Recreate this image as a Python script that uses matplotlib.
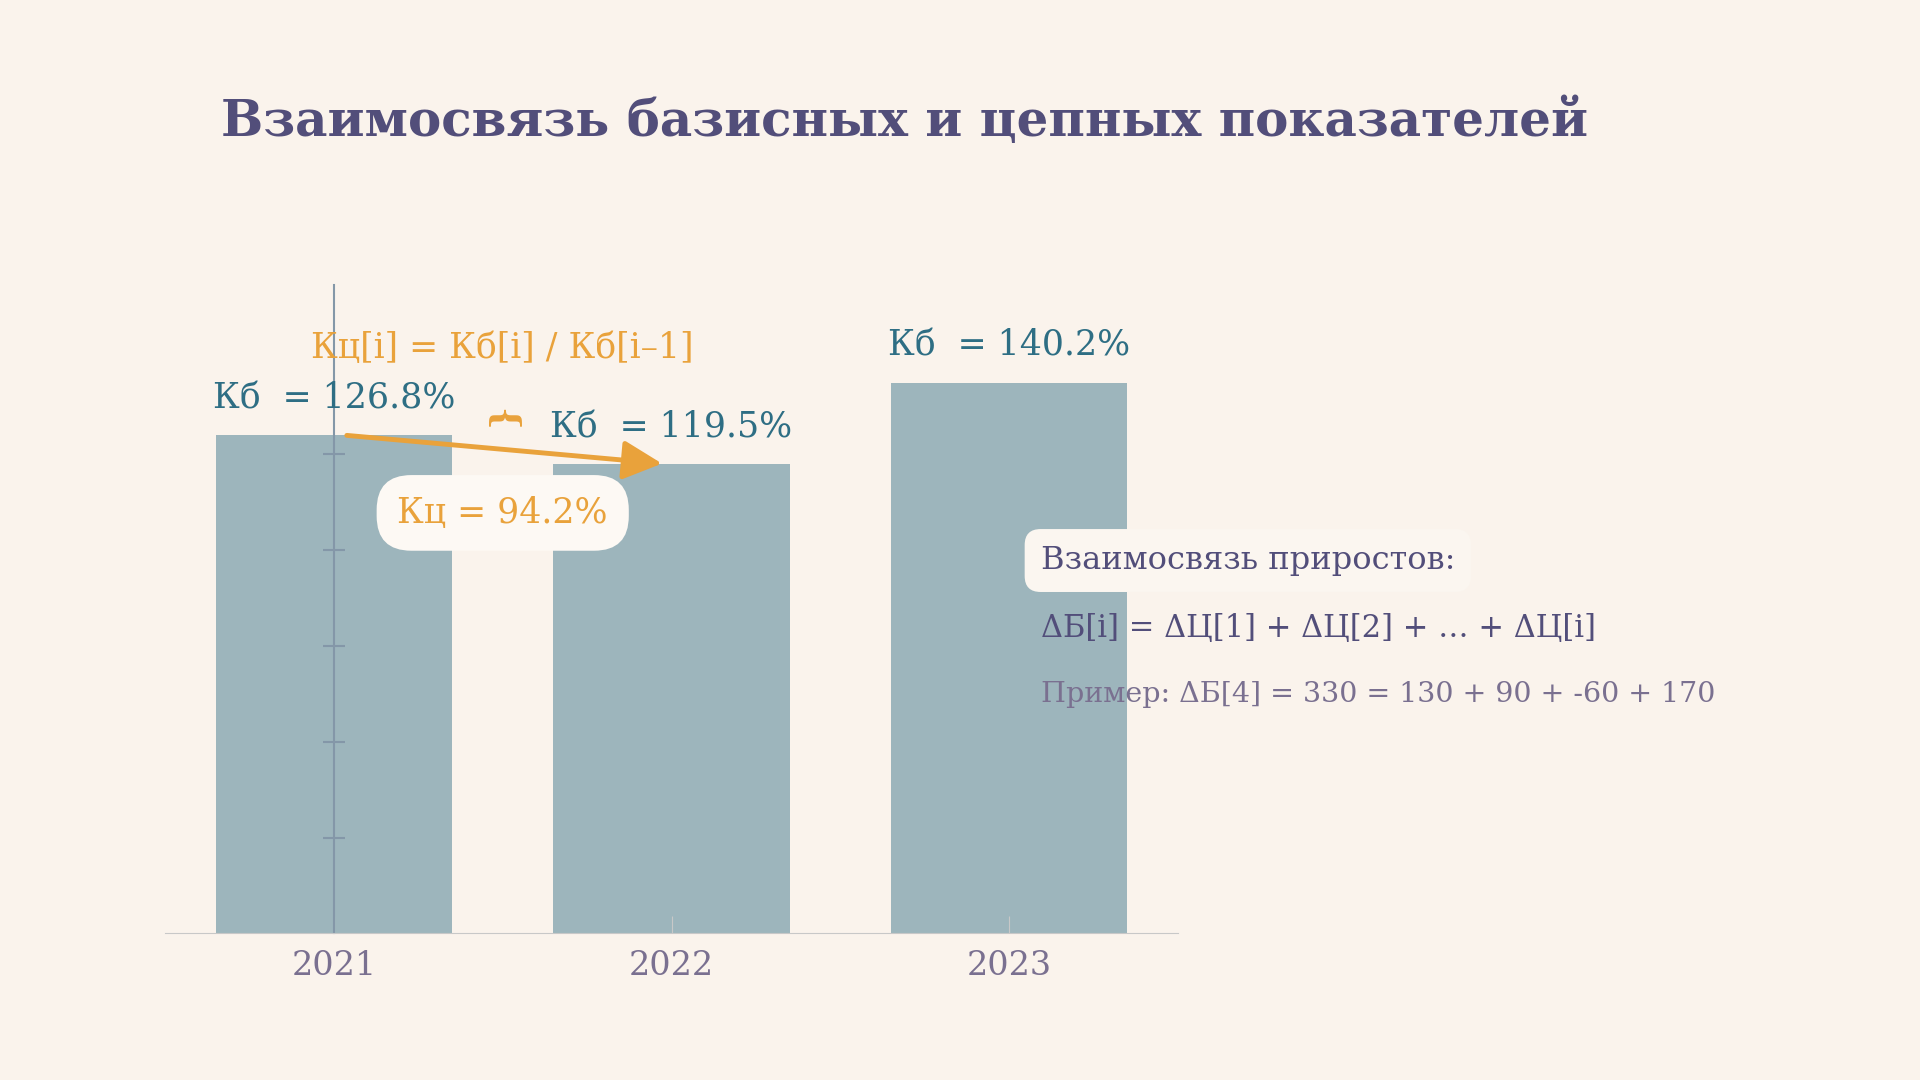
import matplotlib
matplotlib.use("Agg")
import matplotlib.pyplot as plt
from matplotlib.patches import FancyArrowPatch

years = ["2021", "2022", "2023"]
kb = [126.8, 119.5, 140.2]
kb_labels = ["Кб  = 126.8%", "Кб  = 119.5%", "Кб  = 140.2%"]
kc_label = "Кц = 94.2%"
formula = "Кц[i] = Кб[i] / Кб[i–1]"
title = "Взаимосвязь базисных и цепных показателей"
side_lines = ["Взаимосвязь приростов:", "ΔБ[i] = ΔЦ[1] + ΔЦ[2] + … + ΔЦ[i]",
              "Пример: ΔБ[4] = 330 = 130 + 90 + -60 + 170"]
yticks = [24.3, 48.6, 73.0, 97.5, 122.0]

BG = "#faf3ec"; BAR = "#9db5bc"; TITLE = "#524e7a"; BLUE = "#2e6e84"
ORANGE = "#e9a23b"; GRAY = "#7a7090"
plt.rcParams['font.family'] = ['DejaVu Serif', 'DejaVu Sans']

fig = plt.figure(figsize=(19.2, 10.8), dpi=100, facecolor=BG)
ax = fig.add_axes([0.086, 0.136, 0.5275, 0.6])
ax.set_facecolor(BG)
x = range(len(years))
ax.bar(x, kb, width=0.7, color=BAR, zorder=1)
ax.set_xlim(-0.5, 2.5); ax.set_ylim(0, 165)
for s in ["top", "right"]:
    ax.spines[s].set_visible(False)
ax.spines["left"].set_position(("data", 0))
ax.spines["left"].set_color("#8497a8"); ax.spines["left"].set_zorder(2)
ax.spines["left"].set_linewidth(1.5)
ax.spines["bottom"].set_color("#c8c8c8")
ax.set_yticks(yticks); ax.set_yticklabels([])
ax.tick_params(axis="y", direction="inout", length=16, width=1.5, color="#8497a8")
ax.set_xticks(list(x)); ax.set_xticklabels(years)
ax.tick_params(axis="x", direction="in", length=12, color="#c8c8c8",
               labelsize=24, labelcolor=GRAY, pad=12)
for i, (v, lab) in enumerate(zip(kb, kb_labels)):
    ax.text(i, v + 5, lab, ha="center", va="bottom", fontsize=25, color=BLUE)
ax.add_patch(FancyArrowPatch((0.03, kb[0]), (0.98, kb[1]), arrowstyle="-|>,head_length=12,head_width=6",
                             mutation_scale=2, color=ORANGE, lw=3.5, zorder=3))
ax.text(0.5, 132, "}", rotation=90, ha="center", va="center", fontsize=26,
        fontweight="bold", color=ORANGE)
ax.text(0.5, 149, formula, ha="center", va="center", fontsize=25, color=ORANGE)
ax.text(0.5, 107, kc_label, ha="center", va="center", fontsize=25, color=ORANGE,
        bbox=dict(boxstyle="round,pad=0.6,rounding_size=1.0", fc="#fdf9f4", ec="none"), zorder=4)

fig.text(0.115, 0.887, title, fontsize=36, fontweight="bold", color=TITLE, va="center")
fig.text(0.542, 0.481, side_lines[0], fontsize=23, color=TITLE, va="center",
         bbox=dict(boxstyle="round,pad=0.5", fc="#fbf6f0", ec="none"))
fig.text(0.542, 0.418, side_lines[1], fontsize=22, color=TITLE, va="center")
fig.text(0.542, 0.357, side_lines[2], fontsize=20.5, color=GRAY, va="center")
fig.savefig("out.png", dpi=100, facecolor=BG)
